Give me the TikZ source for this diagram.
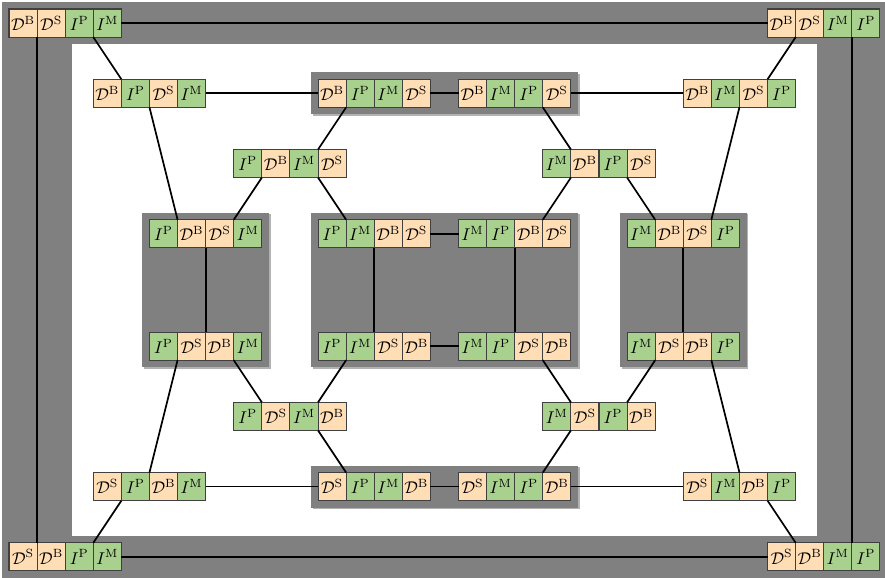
\documentclass[tikz,border=0pt]{standalone}

\definecolor{Dfill}{RGB}{255,221,181}
\definecolor{Ifill}{RGB}{169,209,142}
\definecolor{panelgray}{RGB}{128,128,128}

\newcommand{\labD}[1]{$\mathcal{D}^{\mathrm{#1}}$}
\newcommand{\labI}[1]{$I^{\mathrm{#1}}$}
\newcommand{\cellrow}[4]{%
  \foreach \kd/\ltr [count=\i] in {#4}
    \node[cell, fill=\kd fill] (#1-\i) at ({#2+\i-0.5},{#3+0.5}) {\csname lab\kd\endcsname{\ltr}};%
}

\tikzset{
  cell/.style={draw=black!75, line width=0.6pt, minimum width=0.58cm, minimum height=0.58cm, inner sep=0pt, outer sep=0pt},
  link/.style={line width=1pt},
  panel/.style={fill=panelgray},
  panelshade/.style={fill=black!30}
}

\begin{document}
\begin{tikzpicture}[x=0.58cm,y=-0.58cm]
\useasboundingbox (-0.32,-0.32) rectangle (31.18,20.22);

\fill[panelshade] (-0.19,-0.19) rectangle (31.31,20.31);
\fill[panel] (-0.25,-0.25) rectangle (31.25,20.25);
\fill[white] (2.25,1.25) rectangle (28.75,18.75);

\foreach \xa/\ya/\xb/\yb in {10.75/2.25/20.25/3.75, 10.75/16.25/20.25/17.75, 4.75/7.25/9.25/12.75, 10.75/7.25/20.25/12.75, 21.75/7.25/26.25/12.75}
{
\fill[panelshade] (\xa+0.06,\ya+0.06) rectangle (\xb+0.06,\yb+0.06);
\fill[panel] (\xa,\ya) rectangle (\xb,\yb);
}

\cellrow{ta}{0}{0}{D/B,D/S,I/P,I/M}
\cellrow{tb}{27}{0}{D/B,D/S,I/M,I/P}

\cellrow{sa}{3}{2.5}{D/B,I/P,D/S,I/M}
\cellrow{sb}{11}{2.5}{D/B,I/P,I/M,D/S}
\cellrow{sc}{16}{2.5}{D/B,I/M,I/P,D/S}
\cellrow{sd}{24}{2.5}{D/B,I/M,D/S,I/P}

\cellrow{ua}{8}{5}{I/P,D/B,I/M,D/S}
\cellrow{ub}{19}{5}{I/M,D/B,I/P,D/S}

\cellrow{va}{5}{7.5}{I/P,D/B,D/S,I/M}
\cellrow{vb}{11}{7.5}{I/P,I/M,D/B,D/S}
\cellrow{vc}{16}{7.5}{I/M,I/P,D/B,D/S}
\cellrow{vd}{22}{7.5}{I/M,D/B,D/S,I/P}

\cellrow{wa}{5}{11.5}{I/P,D/S,D/B,I/M}
\cellrow{wb}{11}{11.5}{I/P,I/M,D/S,D/B}
\cellrow{wc}{16}{11.5}{I/M,I/P,D/S,D/B}
\cellrow{wd}{22}{11.5}{I/M,D/S,D/B,I/P}

\cellrow{xa}{8}{14}{I/P,D/S,I/M,D/B}
\cellrow{xb}{19}{14}{I/M,D/S,I/P,D/B}

\cellrow{ya}{3}{16.5}{D/S,I/P,D/B,I/M}
\cellrow{yb}{11}{16.5}{D/S,I/P,I/M,D/B}
\cellrow{yc}{16}{16.5}{D/S,I/M,I/P,D/B}
\cellrow{yd}{24}{16.5}{D/S,I/M,D/B,I/P}

\cellrow{za}{0}{19}{D/S,D/B,I/P,I/M}
\cellrow{zb}{27}{19}{D/S,D/B,I/M,I/P}

\draw[link] (ta-4.east) -- (tb-1.west);
\draw[link] (za-4.east) -- (zb-1.west);
\draw[link] (ta-1.south east) -- (za-1.north east);
\draw[link] (tb-3.south east) -- (zb-3.north east);

\draw[link] (ta-3.south east) -- (sa-1.north east);
\draw[link] (tb-1.south east) -- (sd-3.north east);
\draw[link] (sa-4.east) -- (sb-1.west);
\draw[link] (sb-4.east) -- (sc-1.west);
\draw[link] (sc-4.east) -- (sd-1.west);
\draw[link] (sa-2.south east) -- (va-1.north east);
\draw[link] (sd-2.south east) -- (vd-3.north east);
\draw[link] (sb-1.south east) -- (ua-3.north east);
\draw[link] (sc-3.south east) -- (ub-1.north east);

\draw[link] (ua-1.south east) -- (va-3.north east);
\draw[link] (ua-3.south east) -- (vb-1.north east);
\draw[link] (ub-1.south east) -- (vc-3.north east);
\draw[link] (ub-3.south east) -- (vd-1.north east);

\draw[link] (va-2.south east) -- (wa-2.north east);
\draw[link] (vb-2.south east) -- (wb-2.north east);
\draw[link] (vc-2.south east) -- (wc-2.north east);
\draw[link] (vd-2.south east) -- (wd-2.north east);
\draw[link] (vb-4.east) -- (vc-1.west);
\draw[link] (wb-4.east) -- (wc-1.west);

\draw[link] (wa-3.south east) -- (xa-1.north east);
\draw[link] (wb-1.south east) -- (xa-3.north east);
\draw[link] (wc-3.south east) -- (xb-1.north east);
\draw[link] (wd-1.south east) -- (xb-3.north east);
\draw[link] (wa-1.south east) -- (ya-2.north east);
\draw[link] (wd-3.south east) -- (yd-2.north east);

\draw[link] (xa-3.south east) -- (yb-1.north east);
\draw[link] (xb-1.south east) -- (yc-3.north east);
\draw[link] (ya-4.east) -- (yb-1.west);
\draw[link] (yb-4.east) -- (yc-1.west);
\draw[link] (yc-4.east) -- (yd-1.west);
\draw[link] (ya-1.south east) -- (za-3.north east);
\draw[link] (yd-3.south east) -- (zb-1.north east);
\end{tikzpicture}
\end{document}
